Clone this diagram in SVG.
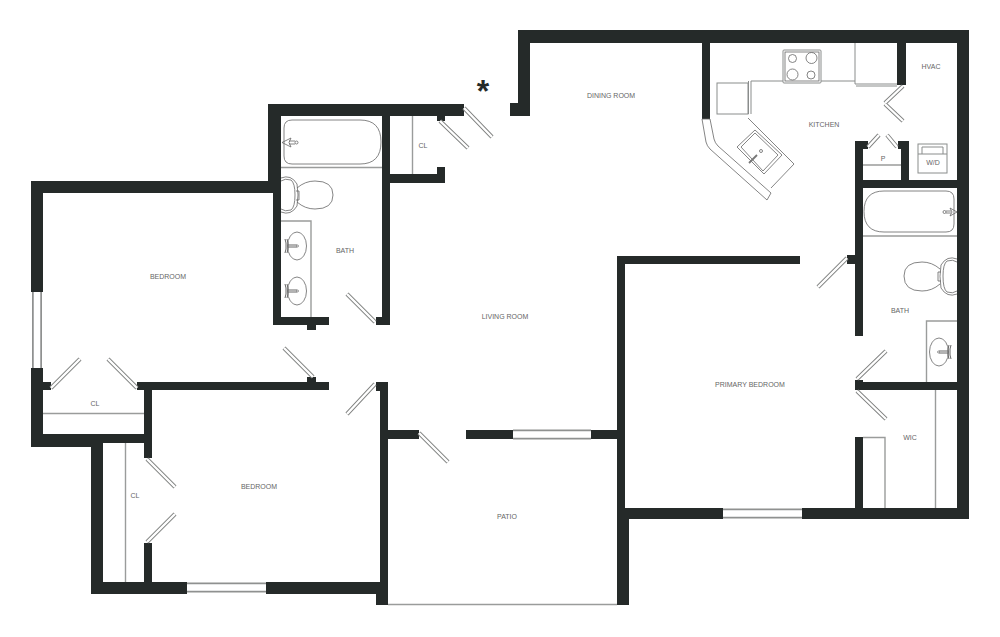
<svg xmlns="http://www.w3.org/2000/svg" width="1000" height="637" viewBox="0 0 1000 637">
<style>
.w{fill:#252a29}
.f{fill:none;stroke:#8a8d8c;stroke-width:1}
.g{fill:none;stroke:#9a9c9b;stroke-width:1.4}
.d{fill:none;stroke:#666;stroke-width:.8}
.t{font-family:"Liberation Sans",Arial,sans-serif;font-size:7px;fill:#666;text-anchor:middle}
.o{fill:none;stroke:#808281;stroke-width:4.200}
.i{fill:none;stroke:#fff;stroke-width:2.400}
</style>
<defs>
<path id="doors" d="M464 108L492 137M440 121L468 148M375 322L347 294M51 388L80 359M137 388L108 359M147 459L175 487M147 542L175 514M313 377L284 348M375 384L347 414M419 433L448 462M847 258L818 287M857 379L886 351M857 391L886 419M903 86L885 103M885 104L903 121M868 147L879 135M897 147L887 135"/>
<path id="wins" d="M37 292V368M187 587.500H266M513 434.500H591M723 513.500H802"/>
<g id="sink">
<ellipse cx="0" cy="0" rx="9.500" ry="14" fill="none" stroke="#666" stroke-width=".8"/>
<path d="M-12 -7L-11 -3V3L-12 7M-10 -7L-9 -3V3L-10 7M-9 -1H0M-9 1H0" fill="none" stroke="#555" stroke-width=".9"/>
<circle cx="0.500" cy="0" r="1" fill="#fff" stroke="#555" stroke-width=".6"/>
</g>
</defs>
<rect width="1000" height="637" fill="#fff"/>
<g id="walls">
<rect class="w" x="518" y="30" width="451" height="13"/>
<rect class="w" x="518" y="30" width="12" height="86"/>
<rect class="w" x="510" y="103" width="10" height="13"/>
<rect class="w" x="957" y="30" width="12" height="489"/>
<rect class="w" x="702" y="43" width="8" height="76"/>
<rect class="w" x="897" y="43" width="9" height="42"/>
<rect class="w" x="855" y="141" width="8" height="195"/>
<rect class="w" x="855" y="141" width="13" height="8"/>
<rect class="w" x="898" y="141" width="11" height="8"/>
<rect class="w" x="901" y="141" width="8" height="40"/>
<rect class="w" x="855" y="180" width="102" height="8"/>
<rect class="w" x="847" y="255" width="8" height="9"/>
<rect class="w" x="855" y="382" width="102" height="8"/>
<rect class="w" x="855" y="380" width="8" height="10"/>
<rect class="w" x="855" y="437" width="8" height="72"/>
<rect class="w" x="802" y="508" width="155" height="11"/>
<rect class="w" x="617" y="508" width="106" height="11"/>
<rect class="w" x="617" y="256" width="183" height="8"/>
<rect class="w" x="617" y="256" width="8" height="252"/>
<rect class="w" x="617" y="508" width="12" height="97"/>
<rect class="w" x="380" y="382" width="8" height="223"/>
<rect class="w" x="376" y="382" width="6" height="9"/>
<rect class="w" x="376" y="582" width="6" height="23"/>
<rect class="w" x="388" y="430" width="31" height="9"/>
<rect class="w" x="466" y="430" width="47" height="9"/>
<rect class="w" x="591" y="430" width="26" height="9"/>
<rect class="w" x="266" y="582" width="114" height="12"/>
<rect class="w" x="91" y="582" width="96" height="12"/>
<rect class="w" x="91" y="443" width="12" height="151"/>
<rect class="w" x="31" y="434" width="121" height="9"/>
<rect class="w" x="31" y="434" width="72" height="13"/>
<rect class="w" x="31" y="368" width="12" height="79"/>
<rect class="w" x="43" y="382" width="8" height="8"/>
<rect class="w" x="137" y="382" width="192" height="8"/>
<rect class="w" x="307" y="377" width="9" height="6"/>
<rect class="w" x="144" y="382" width="8" height="76"/>
<rect class="w" x="144" y="543" width="8" height="40"/>
<rect class="w" x="31" y="181" width="243" height="12"/>
<rect class="w" x="31" y="181" width="12" height="111"/>
<rect class="w" x="268" y="104" width="196" height="12"/>
<rect class="w" x="268" y="104" width="13" height="80"/>
<rect class="w" x="273" y="181" width="8" height="144"/>
<rect class="w" x="273" y="317" width="56" height="8"/>
<rect class="w" x="307" y="325" width="9" height="5"/>
<rect class="w" x="376" y="317" width="14" height="8"/>
<rect class="w" x="382" y="104" width="8" height="221"/>
<rect class="w" x="382" y="174" width="63" height="9"/>
<rect class="w" x="437" y="167" width="8" height="10"/>
<rect class="w" x="437" y="114" width="8" height="7"/>
</g>
<g id="windows-doors">
<use href="#wins" fill="none" stroke="#8f9190" stroke-width="10"/>
<use href="#wins" fill="none" stroke="#fff" stroke-width="6.500"/>
<use href="#doors" class="o"/>
<use href="#doors" class="i"/>
</g>
<g id="fixtures">
<path class="g" d="M388 604.500H617M412.500 116V174M43 413.500H144M125.500 443V582M281 167.500H382M281 221H311V317M863 437.500H885V508M935.500 390V508M926.500 382V321H957M863 236H957M863 165H901"/>
<path class="d" d="M284 128Q284 120 292 120H360Q381 120 381 142Q381 164 360 164H292Q284 164 284 156Z"/>
<path class="d" d="M954 199Q954 191 946 191H884Q864 191 864 211.500Q864 232 884 232H946Q954 232 954 224Z"/>
<path class="d" d="M291 138L282 142.500L291 147L289 142.500Z" fill="#fff"/>
<path class="d" d="M289 141H295M289 144H295"/><circle class="d" cx="296.500" cy="142.500" r="1.500"/>
<path class="d" d="M950 208L957 212L950 216L952 212Z" fill="#fff"/><path class="d" d="M946 211H951M946 213H951"/><circle class="d" cx="944.500" cy="212" r="1.500"/>
<g id="toilet-left">
<path class="d" d="M297 188Q305 181 315 181Q333 181 333 195Q333 209 315 209Q305 209 297 202"/>
<path class="d" d="M281 178Q291 174 297 184Q299 195 297 206Q291 216 281 212M281 181Q285 178 291 180Q295 183 295 195Q295 207 291 210Q285 212 281 209"/>
<path class="d" d="M296 191H299V200H296"/>
</g>
<g id="toilet-right">
<path class="d" d="M940 269Q932 262 922 262Q904 262 904 276Q904 291 922 291Q932 291 940 284"/>
<path class="d" d="M957 259Q947 255 941 265Q939 276 941 288Q947 298 957 294M957 262Q953 259 947 261Q943 264 943 276Q943 289 947 292Q953 294 957 291"/>
<path class="d" d="M941 272H938V281H941"/>
</g>
<use href="#sink" transform="translate(297 246)"/>
<use href="#sink" transform="translate(297 291)"/>
<use href="#sink" transform="translate(939 352) scale(-1 1)"/>
</g>
<g id="kitchen">
<rect class="f" x="783" y="50" width="38" height="33" rx="1"/>
<rect class="d" x="785" y="52" width="34" height="29"/>
<circle class="d" cx="792.500" cy="58.500" r="4"/>
<circle class="d" cx="811.500" cy="58" r="5.500"/>
<circle class="d" cx="792.500" cy="74.500" r="5.500"/>
<circle class="d" cx="811" cy="75" r="4"/>
<path class="f" d="M751 81H783M821 81H855"/>
<path class="f" d="M855 43V84H897M856 86H897"/>
<rect class="f" x="717" y="83" width="31" height="31"/>
<path class="f" d="M748.500 81V114M751 81V114"/>
<path class="d" d="M748 118L794 164L771 188M702 119L706 142Q707 146 710 149L767 200L771 193L718 146Q715 143 714 139L710 119H702"/>
<path class="d" d="M755 130L782 155L764 174L737 147Z"/>
<path class="d" d="M755 133L778 155L763 171L741 147Z"/>
<path d="M749 163L757 155" fill="none" stroke="#777" stroke-width="1.800"/>
<circle class="d" cx="761" cy="151" r="1.500"/>
</g>
<g id="wd">
<rect class="f" x="918" y="144" width="29" height="29"/>
<path class="f" d="M918 154H947M922 154V147H943V154"/>
</g>
<g id="labels">
<text class="t" x="611" y="98">DINING ROOM</text>
<text class="t" x="824" y="127">KITCHEN</text>
<text class="t" x="931" y="69">HVAC</text>
<text class="t" x="883" y="161">P</text>
<text class="t" x="933" y="165">W/D</text>
<text class="t" x="423" y="148">CL</text>
<text class="t" x="345" y="253">BATH</text>
<text class="t" x="168" y="279">BEDROOM</text>
<text class="t" x="505" y="319">LIVING ROOM</text>
<text class="t" x="900" y="313">BATH</text>
<text class="t" x="750" y="387">PRIMARY BEDROOM</text>
<text class="t" x="95" y="406">CL</text>
<text class="t" x="910" y="440">WIC</text>
<text class="t" x="135" y="498">CL</text>
<text class="t" x="259" y="489">BEDROOM</text>
<text class="t" x="507" y="519">PATIO</text>
<text x="483" y="102" font-family="Liberation Sans,sans-serif" font-size="32" font-weight="700" fill="#252a29" text-anchor="middle">*</text>
</g>
</svg>
